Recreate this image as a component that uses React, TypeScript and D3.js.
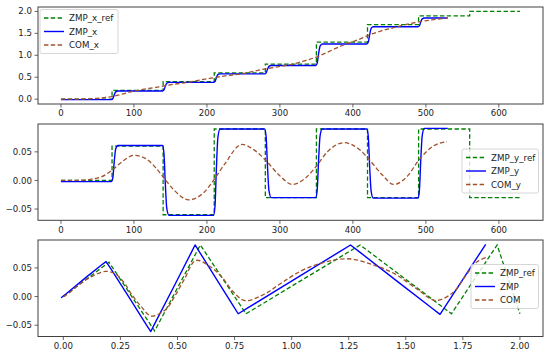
import React from 'react';
import * as d3 from 'd3';

// ---------- data ----------
const refT = [0, 70, 140, 210, 280, 350, 420, 490, 560, 629];
const refX = [0, 0.2, 0.4, 0.6, 0.8, 1.3, 1.7, 1.9, 2.0, 2.0];
const refY = [0, 0.06, -0.06, 0.09, -0.03, 0.09, -0.03, 0.09, -0.03, -0.03];

const zmpT = [0, 69, 71, 73, 75, 78, 139, 141, 143, 145, 148, 209, 211, 213, 215, 218, 279, 281, 283, 285, 288, 349, 351, 353, 355, 358, 419, 421, 423, 425, 428, 489, 491, 493, 495, 498, 530];
const zmpX = [-0.01, -0.01, 0.01, 0.098, 0.167, 0.187, 0.187, 0.207, 0.295, 0.363, 0.383, 0.383, 0.402, 0.49, 0.558, 0.577, 0.577, 0.596, 0.681, 0.747, 0.766, 0.766, 0.815, 1.037, 1.209, 1.258, 1.258, 1.297, 1.474, 1.611, 1.65, 1.65, 1.67, 1.76, 1.83, 1.85, 1.85];
const zmpY = [-0.002, -0.002, 0.004, 0.033, 0.055, 0.061, 0.061, 0.049, -0.006, -0.049, -0.061, -0.061, -0.046, 0.022, 0.075, 0.09, 0.09, 0.078, 0.024, -0.018, -0.03, -0.03, -0.018, 0.036, 0.078, 0.09, 0.09, 0.078, 0.023, -0.019, -0.031, -0.031, -0.019, 0.036, 0.079, 0.091, 0.091];

const comT = [0, 20, 40, 55, 70, 85, 100, 115, 130, 140, 155, 175, 195, 210, 225, 248, 265, 280, 300, 317, 335, 350, 365, 388, 408, 420, 440, 456, 475, 490, 510, 529];
const comX = [0, 0.002, 0.01, 0.025, 0.06, 0.12, 0.185, 0.23, 0.27, 0.295, 0.34, 0.385, 0.45, 0.49, 0.53, 0.58, 0.64, 0.69, 0.745, 0.795, 0.88, 0.96, 1.07, 1.24, 1.36, 1.45, 1.56, 1.63, 1.71, 1.76, 1.81, 1.85];
const comY = [0, 0, 0.002, 0.006, 0.018, 0.034, 0.044, 0.039, 0.022, 0.006, -0.017, -0.034, -0.022, 0.002, 0.03, 0.063, 0.053, 0.036, 0.008, -0.007, 0.004, 0.025, 0.05, 0.066, 0.055, 0.04, 0.01, -0.007, 0.008, 0.035, 0.06, 0.068];

const timeTicks = [0, 100, 200, 300, 400, 500, 600];
const y1Ticks = [0, 0.5, 1.0, 1.5, 2.0];
const smallTicks = [-0.05, 0, 0.05];
const x3Ticks = [0, 0.25, 0.5, 0.75, 1.0, 1.25, 1.5, 1.75, 2.0];

const legend1 = ['ZMP_x_ref', 'ZMP_x', 'COM_x'];
const legend2 = ['ZMP_y_ref', 'ZMP_y', 'COM_y'];
const legend3 = ['ZMP_ref', 'ZMP', 'COM'];

// ---------- style ----------
const GREEN = '#008000';
const BLUE = '#0000ff';
const BROWN = '#a0522d';
const DASH = '4.4,2.4';
const FONT = 'DejaVu Sans';
const L = 38, R = 543;

const P1 = { top: 7, bottom: 104 };
const P2 = { top: 124, bottom: 220.3 };
const P3 = { top: 240, bottom: 336.5 };

const xT = d3.scaleLinear().domain([-31.45, 660.45]).range([L, R]);
const y1 = d3.scaleLinear().domain([-0.11, 2.1]).range([P1.bottom, P1.top]);
const y2 = d3.scaleLinear().domain([-0.0697, 0.0987]).range([P2.bottom, P2.top]);
const x3 = d3.scaleLinear().domain([-0.111, 2.101]).range([L, R]);
const y3 = d3.scaleLinear().domain([-0.0697, 0.0987]).range([P3.bottom, P3.top]);

const fmtMinus = (s: string) => s.replace('-', '\u2212');

function Frame({ id, top, bottom, xs, ys, xticks, yticks, xfmt, yfmt }: any) {
  return (
    <g>
      <rect x={L} y={top} width={R - L} height={bottom - top} fill="none" stroke="#404040" strokeWidth={1} />
      {xticks.map((t: number) => (
        <g key={'x' + t}>
          <line x1={xs(t)} x2={xs(t)} y1={bottom} y2={bottom + 3.5} stroke="#404040" strokeWidth={0.8} />
          <text x={xs(t)} y={bottom + 12.3} textAnchor="middle" fontSize={8.6} fontFamily={FONT} fill="#222">{xfmt(t)}</text>
        </g>
      ))}
      {yticks.map((t: number) => (
        <g key={'y' + t}>
          <line x1={L - 3.5} x2={L} y1={ys(t)} y2={ys(t)} stroke="#404040" strokeWidth={0.8} />
          <text x={L - 6} y={ys(t) + 3.1} textAnchor="end" fontSize={8.6} fontFamily={FONT} fill="#222">{fmtMinus(yfmt(t))}</text>
        </g>
      ))}
    </g>
  );
}

function Legend({ x0, y0, w, labels }: any) {
  const styles = [
    { stroke: GREEN, dash: DASH, sw: 1.3 },
    { stroke: BLUE, dash: undefined, sw: 1.4 },
    { stroke: BROWN, dash: DASH, sw: 1.3 },
  ];
  return (
    <g>
      <rect x={x0} y={y0} width={w} height={44} rx={2} fill="white" fillOpacity={0.8} stroke="#cccccc" strokeWidth={0.8} />
      {labels.map((lab: string, i: number) => {
        const yy = y0 + 8.5 + i * 13.5;
        return (
          <g key={lab}>
            <line x1={x0 + 4} x2={x0 + 24} y1={yy} y2={yy} stroke={styles[i].stroke} strokeWidth={styles[i].sw} strokeDasharray={styles[i].dash} />
            <text x={x0 + 29} y={yy + 3.2} fontSize={8.7} fontFamily={FONT} fill="#222">{lab}</text>
          </g>
        );
      })}
    </g>
  );
}

export default function App() {
  const idx = (a: number[]) => a.map((_, i) => i);

  const step = (ys: any, vals: number[]) =>
    d3.line<number>().x(i => xT(refT[i])).y(i => ys(vals[i])).curve(d3.curveStepAfter)(idx(refT)) || '';
  const ts = (ys: any, T: number[], V: number[]) =>
    d3.line<number>().x(i => xT(T[i])).y(i => ys(V[i])).curve(d3.curveMonotoneX)(idx(T)) || '';

  const ref3 = d3.line<number>().x(i => x3(refX[i])).y(i => y3(refY[i]))(idx(refT)) || '';
  const zmp3 = d3.line<number>().x(i => x3(zmpX[i])).y(i => y3(zmpY[i]))(idx(zmpT)) || '';
  const com3 = d3.line<number>().x(i => x3(comX[i])).y(i => y3(comY[i])).curve(d3.curveCatmullRom.alpha(0.5))(idx(comT)) || '';

  const fmt1 = (t: number) => d3.format('.1f')(t);
  const fmt2 = (t: number) => d3.format('.2f')(t);
  const fmt0 = (t: number) => d3.format('d')(t);

  return (
    <svg width={550} height={355} style={{ position: 'absolute', left: 0, top: 0, background: 'white' }}>
      <defs>
        <clipPath id="c1"><rect x={L} y={P1.top} width={R - L} height={P1.bottom - P1.top} /></clipPath>
        <clipPath id="c2"><rect x={L} y={P2.top} width={R - L} height={P2.bottom - P2.top} /></clipPath>
        <clipPath id="c3"><rect x={L} y={P3.top} width={R - L} height={P3.bottom - P3.top} /></clipPath>
      </defs>
      <rect x={0} y={0} width={550} height={355} fill="white" />

      {/* panel 1 */}
      <g clipPath="url(#c1)" fill="none">
        <path d={step(y1, refX)} stroke={GREEN} strokeWidth={1.3} strokeDasharray={DASH} />
        <path d={ts(y1, zmpT, zmpX)} stroke={BLUE} strokeWidth={1.4} />
        <path d={ts(y1, comT, comX)} stroke={BROWN} strokeWidth={1.3} strokeDasharray={DASH} />
      </g>
      <Frame top={P1.top} bottom={P1.bottom} xs={xT} ys={y1} xticks={timeTicks} yticks={y1Ticks} xfmt={fmt0} yfmt={fmt1} />
      <Legend x0={40} y0={9.5} w={78} labels={legend1} />

      {/* panel 2 */}
      <g clipPath="url(#c2)" fill="none">
        <path d={step(y2, refY)} stroke={GREEN} strokeWidth={1.3} strokeDasharray={DASH} />
        <path d={ts(y2, zmpT, zmpY)} stroke={BLUE} strokeWidth={1.4} />
        <path d={ts(y2, comT, comY)} stroke={BROWN} strokeWidth={1.3} strokeDasharray={DASH} />
      </g>
      <Frame top={P2.top} bottom={P2.bottom} xs={xT} ys={y2} xticks={timeTicks} yticks={smallTicks} xfmt={fmt0} yfmt={fmt2} />
      <Legend x0={462} y0={149} w={76.5} labels={legend2} />

      {/* panel 3 */}
      <g clipPath="url(#c3)" fill="none">
        <path d={ref3} stroke={GREEN} strokeWidth={1.3} strokeDasharray={DASH} />
        <path d={zmp3} stroke={BLUE} strokeWidth={1.4} strokeLinejoin="round" />
        <path d={com3} stroke={BROWN} strokeWidth={1.3} strokeDasharray={DASH} />
      </g>
      <Frame top={P3.top} bottom={P3.bottom} xs={x3} ys={y3} xticks={x3Ticks} yticks={smallTicks} xfmt={fmt2} yfmt={fmt2} />
      <Legend x0={471} y0={264.5} w={67.5} labels={legend3} />
    </svg>
  );
}
